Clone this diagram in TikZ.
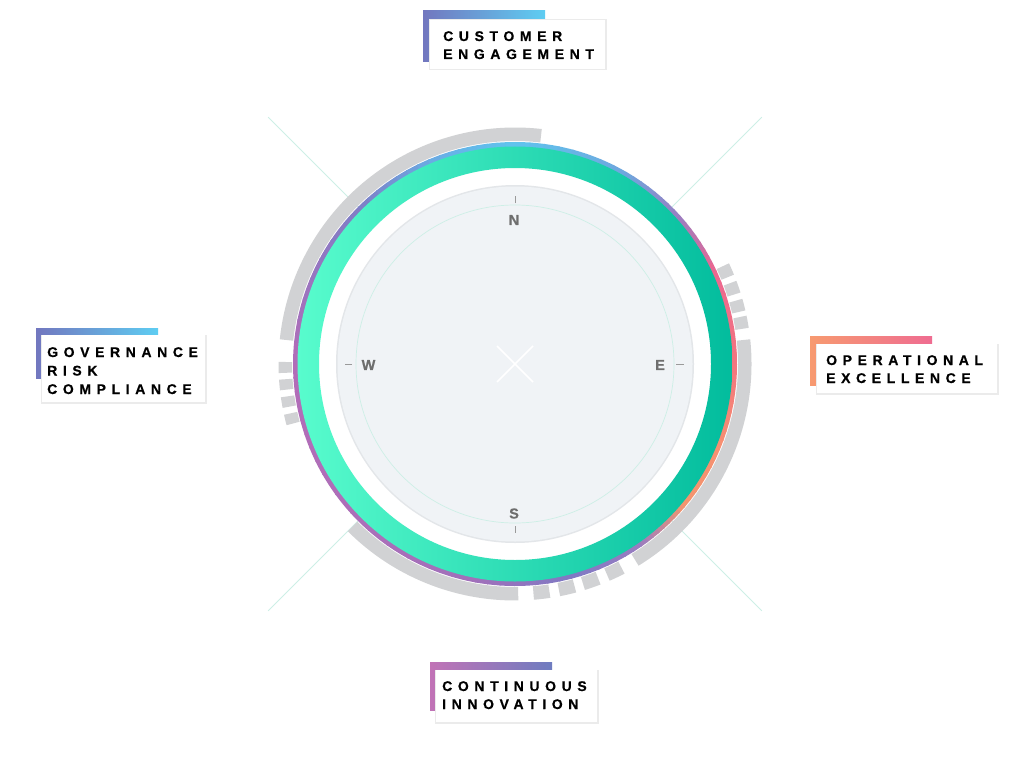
\documentclass[tikz,border=0pt]{standalone}
\usepackage{fontspec}
\setmainfont{Liberation Sans}
\newfontfamily\lblfont[LetterSpace=40,BoldFont={Liberation Sans Bold},BoldFeatures={FakeBold=0.6}]{Liberation Sans}
\newfontfamily\dirfont[BoldFont={Liberation Sans Bold},BoldFeatures={FakeBold=0.4}]{Liberation Sans}
\definecolor{grayarc}{HTML}{D1D2D4}
\definecolor{gL}{HTML}{58FCCD}
\definecolor{gR}{HTML}{02BC9D}
\definecolor{diskc}{HTML}{F0F3F6}
\definecolor{diskedge}{HTML}{E3E6E9}
\definecolor{tealline}{HTML}{CDEFE6}
\definecolor{letterc}{HTML}{6E6E6E}
\definecolor{tickc}{HTML}{9A9A9A}
\definecolor{shadowc}{HTML}{EBEBEB}
\definecolor{blueA}{HTML}{7277BF}
\definecolor{blueB}{HTML}{5ECDF2}
\definecolor{orA}{HTML}{F79A70}
\definecolor{orB}{HTML}{EF6C91}
\definecolor{puA}{HTML}{C173B6}
\definecolor{puB}{HTML}{6E7CC0}
\definecolor{c1}{HTML}{5FC4EE}
\definecolor{c2}{HTML}{6FA6DE}
\definecolor{c3}{HTML}{9A7EC2}
\definecolor{c4}{HTML}{EC6690}
\definecolor{c5}{HTML}{F2767F}
\definecolor{c6}{HTML}{F68E72}
\definecolor{c7}{HTML}{F3966E}
\definecolor{c8}{HTML}{9A7CC0}
\definecolor{c9}{HTML}{7F7AC4}
\definecolor{c10}{HTML}{A070BA}
\definecolor{c11}{HTML}{B06EB8}
\definecolor{c12}{HTML}{B26CB8}
\definecolor{c13}{HTML}{7E7EC6}
\definecolor{c14}{HTML}{68B0E6}
\newcommand\gsec[2]{\fill[grayarc] (#1:223) arc[start angle=#1,end angle=#2,radius=223] -- (#2:236.5) arc[start angle=#2,end angle=#1,radius=236.5] -- cycle;}
\begin{document}
\begin{tikzpicture}[x=1pt,y=-1pt,
  lbltext/.style={font=\lblfont\bfseries\fontsize{14}{18}\selectfont, anchor=base west, inner sep=0pt, text=black},
  dirletter/.style={font=\dirfont\bfseries\fontsize{14.5}{14.5}\selectfont, text=letterc, inner sep=0pt},
  diag/.style={draw=tealline, line width=0.8pt},
  tickline/.style={draw=tickc, line width=0.8pt}]
\useasboundingbox[fill=white] (0,0) rectangle (1024,770);

\begin{scope}[shift={(515,364)}, yscale=-1]
  \coordinate (ctr) at (0,0);
  % diagonal guide lines
  \foreach \ang in {45,135,225,315}{
    \draw[diag] (\ang:222) -- (\ang:349);
  }
  % gray outer arcs and ticks
  \gsec{83.5}{174}
  \gsec{179.5}{182.2}\gsec{183.8}{186.4}\gsec{188.1}{190.7}\gsec{192.4}{195}
  \gsec{22.2}{25.2}\gsec{17.6}{20.6}\gsec{13.1}{16}\gsec{8.8}{11.8}
  \gsec{-58.5}{6}
  \gsec{-66.4}{-62.4}\gsec{-72.8}{-68.8}\gsec{-79}{-75}\gsec{-85.4}{-81.4}
  \gsec{225}{270.8}
  % colored border ring
  \foreach \a/\b/\ca/\cb in {90/60/c1/c2, 60/42/c2/c3, 42/25/c3/c4, 25/0/c4/c5, 0/-20/c5/c6, -20/-40/c6/c7, -40/-55/c7/c8, -55/-75/c8/c9, -75/-100/c9/c10, -100/-150/c10/c11, -150/-180/c11/c12, -180/-225/c12/c13, -225/-250/c13/c14, -250/-270/c14/c1}{
    \foreach \i in {0,...,7}{
      \pgfmathsetmacro\s{\a+(\b-\a)*\i/8}
      \pgfmathsetmacro\e{\a+(\b-\a)*(\i+1)/8-0.4}
      \pgfmathtruncatemacro\p{(\i+0.5)*100/8}
      \fill[\cb!\p!\ca] (\s:222) arc[start angle=\s,end angle=\e,radius=222] -- (\e:215) arc[start angle=\e,end angle=\s,radius=215] -- cycle;
    }
  }
  % green ring
  \path[even odd rule, left color=gL, right color=gR] (0,0) circle[radius=217.5] (0,0) circle[radius=196];
  % compass disk
  \fill[diskedge] (0,0) circle[radius=179];
  \fill[diskc] (0,0) circle[radius=177.5];
  \draw[tealline, line width=0.7pt] (0,0) circle[radius=159];
  % ticks
  \draw[tickline] (90:161) -- (90:168);
  \draw[tickline] (270:162) -- (270:169);
  \draw[tickline] (0:161) -- (0:169);
  \draw[tickline] (180:163) -- (180:170);
  % center cross
  \draw[white, line width=1.6pt] (-18,18) -- (18,-18) (-18,-18) -- (18,18);
\end{scope}

% compass letters
\node[dirletter] (north) at (514,220) {N};
\node[dirletter] (south) at (514,513.5) {S};
\node[dirletter] (east) at (660,365) {E};
\node[dirletter] (west) at (368.5,365) {W};

% label: customer engagement
\shade[left color=blueA, right color=blueB] (423,11) rectangle (545,62);
\fill[shadowc] (429,19.5) rectangle (606.5,70.5);
\fill[white] (430,20) rectangle (605,69);
\node[lbltext] (ce1) at (443,41) {CUSTOMER};
\node[lbltext] (ce2) at (443,59) {ENGAGEMENT};

% label: governance risk compliance
\shade[left color=blueA, right color=blueB] (36,328) rectangle (158,378);
\fill[shadowc] (41,334.5) rectangle (206.5,403.5);
\fill[white] (42,335) rectangle (205,402);
\node[lbltext] (gr1) at (47,357) {GOVERNANCE};
\node[lbltext] (gr2) at (47,375.5) {RISK};
\node[lbltext] (gr3) at (47,394) {COMPLIANCE};

% label: operational excellence
\shade[left color=orA, right color=orB] (810,336) rectangle (932,385);
\fill[shadowc] (816,343.5) rectangle (998.5,394.5);
\fill[white] (817,344) rectangle (997,393);
\node[lbltext] (oe1) at (826,365) {OPERATIONAL};
\node[lbltext] (oe2) at (826,383) {EXCELLENCE};

% label: continuous innovation
\shade[left color=puA, right color=puB] (430,662) rectangle (552,710);
\fill[shadowc] (435,669.5) rectangle (598.5,723.5);
\fill[white] (436,670) rectangle (597,722);
\node[lbltext] (ci1) at (442,691) {CONTINUOUS};
\node[lbltext] (ci2) at (442,709) {INNOVATION};
\end{tikzpicture}
\end{document}
